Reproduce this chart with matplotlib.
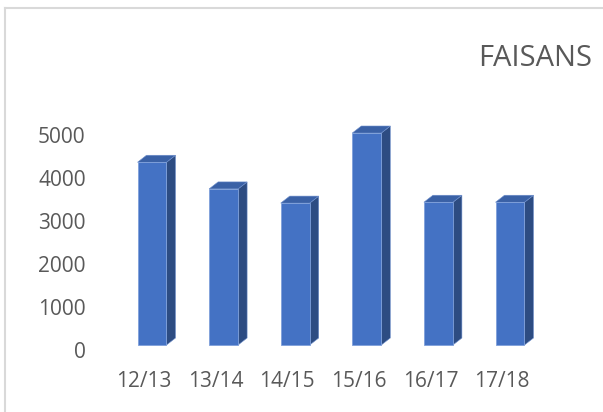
import matplotlib
matplotlib.use("Agg")
import matplotlib.pyplot as plt
import matplotlib.transforms as mtransforms
from matplotlib.patches import Polygon, Rectangle
from matplotlib.lines import Line2D

# data
seasons = ["12/13", "13/14", "14/15", "15/16", "16/17", "17/18"]
counts = [4250, 3630, 3300, 4930, 3320, 3320]
yticks = [0, 1000, 2000, 3000, 4000, 5000]
title = "FAISANS"

plt.rcParams['font.family'] = ['Open Sans', 'DejaVu Sans']
text_col = '#595959'
front_col = '#4472C4'
side_col = '#2D4C82'
top_col = '#3A61A6'

W, H = 603, 412
fig = plt.figure(figsize=(W / 100, H / 100), dpi=100)
fig.patch.set_facecolor('white')

# chart border (top and left edges visible)
fig.add_artist(Line2D([5 / W, 5 / W], [0, 1 - 8 / H], color='#D9D9D9', lw=1.5))
fig.add_artist(Line2D([5 / W, 1], [1 - 8 / H, 1 - 8 / H], color='#D9D9D9', lw=1.5))

# axes: y=0 at pixel 345, y=5000 at pixel 130; index -0.5..5.5 spans 116..546
ax = fig.add_axes([116.2 / W, (H - 345) / H, 429.6 / W, 215 / H])
ax.set_xlim(-0.5, len(seasons) - 0.5)
ax.set_ylim(0, 5000)
for s in ax.spines.values():
    s.set_visible(False)

bw = 0.405
dx = 9 * len(seasons) / 429.6
dy = 7 * 5000 / 215

for i, v in enumerate(counts):
    x0, x1 = i - bw / 2, i + bw / 2
    side = Polygon([(x1, 0), (x1 + dx, dy), (x1 + dx, v + dy), (x1, v)],
                   closed=True, facecolor=side_col, edgecolor='#6E8FCC', lw=0.4, clip_on=False)
    top = Polygon([(x0, v), (x1, v), (x1 + dx, v + dy), (x0 + dx, v + dy)],
                  closed=True, facecolor=top_col, edgecolor='#6E8FCC', lw=0.4, clip_on=False)
    front = Rectangle((x0, 0), bw, v, facecolor=front_col, edgecolor='#7FA0DA', lw=0.6, clip_on=False)
    ax.add_patch(side)
    ax.add_patch(top)
    ax.add_patch(front)

ax.set_xticks(range(len(seasons)))
ax.set_xticklabels(seasons)
ax.set_yticks(yticks)
ax.set_yticklabels([str(t) for t in yticks])
ax.tick_params(axis='both', length=0, labelsize=15, labelcolor=text_col)
ax.tick_params(axis='y', pad=22)
ax.tick_params(axis='x', pad=19)

for lab in ax.get_yticklabels():
    lab.set_transform(lab.get_transform() + mtransforms.ScaledTranslation(0, -0.05, fig.dpi_scale_trans))
for lab in ax.get_xticklabels():
    lab.set_transform(lab.get_transform() + mtransforms.ScaledTranslation(-0.08, 0, fig.dpi_scale_trans))

fig.text(478 / W, 1 - 58 / H, title, fontsize=21, color=text_col, ha='left', va='center')

fig.savefig('out.png', dpi=100)
